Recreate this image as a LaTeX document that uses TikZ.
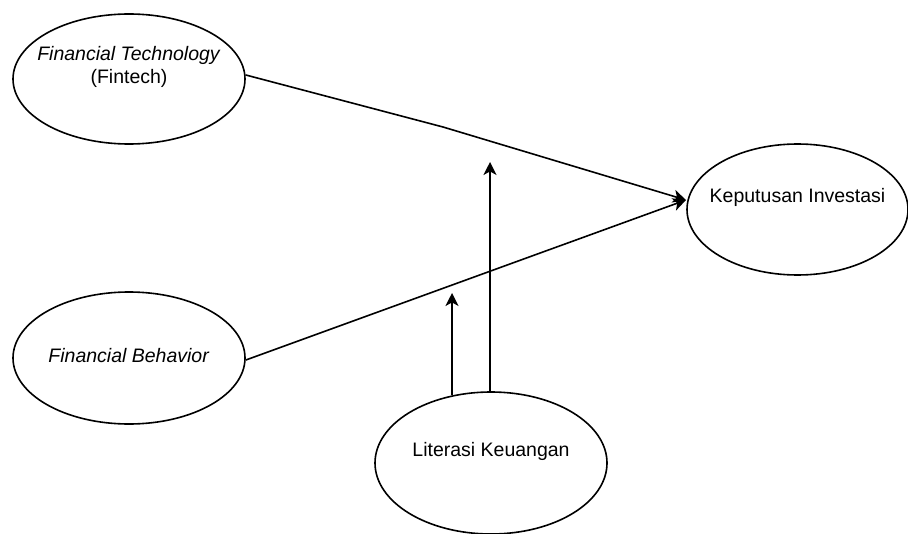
\documentclass[tikz,border=0pt]{standalone}
\usepackage{fontspec}
\setmainfont{Liberation Sans}
\usepackage{tikz}
\usetikzlibrary{
  arrows.meta,
  positioning,
  calc,
  shapes.geometric}
\newcommand{\vartext}[1]{\makebox[0pt]{\begin{tabular}{@{}c@{}}#1\end{tabular}}}
\tikzset{every picture/.style={font issue=\fontsize{9.75}{11.5}},
         font issue/.style={execute at begin picture={#1\selectfont}},
         var/.style={draw, ellipse, line width=0.8pt, inner sep=0pt},
         link/.style={line width=0.8pt, -{Stealth[length=6.5pt,width=6.5pt,inset=1.8pt]}}
        }
\begin{document}
\begin{tikzpicture}[x=0.5pt, y=-0.5pt]
\useasboundingbox (0,0) rectangle (908,534);

%variables
\node[var, minimum width=116pt, minimum height=65pt] (fintech) at (129,79)
  {\vartext{\textit{Financial Technology}\\(Fintech)\\\mbox{}}};
\node[var, minimum width=116pt, minimum height=66pt] (behavior) at (129,358)
  {\vartext{\textit{Financial Behavior}}};
\node[var, minimum width=110.5pt, minimum height=65.5pt] (keputusan) at (797.5,209.5)
  {\vartext{Keputusan Investasi\\\mbox{}}};
\node[var, minimum width=116pt, minimum height=71pt] (literasi) at (491,463)
  {\vartext{Literasi Keuangan\\\mbox{}}};

\coordinate (bend) at (443,127);
\coordinate (hit) at (686,200);
\coordinate (mod1) at (452,293);
\coordinate (mod2) at (490,162);

%direct paths
\draw[link] (fintech.2) -- (bend) -- (hit);
\draw[link] (behavior.-1) -- (hit);

%moderation
\draw[link] ([yshift=-2pt]literasi.north -| mod1) -- (mod1);
\draw[link] (literasi.north -| mod2) -- (mod2);

\end{tikzpicture}
\end{document}
